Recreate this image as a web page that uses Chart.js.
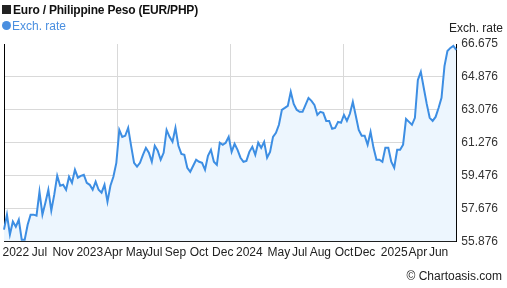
<!DOCTYPE html>
<html>
<head>
<meta charset="utf-8">
<script src="https://cdn.jsdelivr.net/npm/chart.js@4.4.1/dist/chart.umd.min.js"></script>
<style>
body { margin: 0; background: #fff; font-family: "Liberation Sans", Arial, sans-serif; }
#wrap { position: relative; width: 507px; height: 288px; }
#chart { position: absolute; left: 0; top: 0; }
.title { position: absolute; left: 2px; top: 3px; font-size: 12px; font-weight: bold; color: #111; letter-spacing: -0.2px; }
.title .sq { display: inline-block; width: 9px; height: 9px; background: #222; margin-right: 2px; }
.legend { position: absolute; left: 2px; top: 19px; font-size: 12px; color: #4a8fe0; }
.legend .dot { display: inline-block; width: 9px; height: 9px; border-radius: 50%; background: #4a8fe0; margin-right: 1px; }
.ytitle { position: absolute; right: 4px; top: 21px; font-size: 12px; color: #222; }
.credit { position: absolute; right: 5px; top: 269px; font-size: 12px; color: #222; }
</style>
</head>
<body>
<div id="wrap">
  <canvas id="chart" width="507" height="288"></canvas>
  <div class="title"><span class="sq"></span>Euro / Philippine Peso (EUR/PHP)</div>
  <div class="legend"><span class="dot"></span>Exch. rate</div>
  <div class="ytitle">Exch. rate</div>
  <div class="credit">© Chartoasis.com</div>
</div>
<script>
// EUR/PHP rate, every 3px
const rates = [
  56.53, 57.35, 56.26, 56.97, 56.69, 57.07, 55.98, 55.98, 56.80, 57.35,
  57.35, 57.29, 58.60, 57.35, 58.00, 58.71, 57.57, 58.44, 59.47, 58.93,
  58.98, 58.71, 59.42, 59.09, 59.80, 59.37, 59.47, 59.53, 59.09, 58.98,
  58.71, 59.15, 58.71, 58.55, 58.98, 58.06, 58.93, 59.42, 60.18, 61.98,
  61.60, 61.66, 62.09, 61.11, 60.18, 59.97, 60.18, 60.62, 61.00, 60.73,
  60.24, 61.11, 60.84, 60.35, 60.73, 61.98, 61.60, 61.33, 62.09, 61.11,
  60.67, 60.62, 59.91, 59.69, 60.02, 60.35, 60.24, 60.18, 59.80, 60.57,
  60.89, 60.24, 60.07, 61.28, 61.17, 61.28, 61.60, 60.78, 61.22, 60.89,
  60.46, 60.24, 60.29, 60.78, 61.06, 60.62, 61.28, 61.00, 61.33, 60.46,
  60.78, 61.60, 61.82, 62.26, 63.08, 63.18, 63.29, 64.06, 63.40, 63.08,
  62.97, 62.97, 63.35, 63.73, 63.57, 63.35, 62.80, 62.97, 62.91, 62.47,
  62.47, 62.04, 62.09, 62.42, 62.37, 62.80, 62.47, 62.86, 63.51, 62.75,
  61.98, 61.66, 61.66, 61.17, 61.87, 61.00, 60.35, 60.35, 60.24, 61.00,
  61.00, 60.24, 59.91, 60.89, 60.89, 61.17, 62.58, 62.42, 62.26, 62.64,
  64.71, 65.15, 64.27, 63.40, 62.64, 62.47, 62.69, 63.18, 63.73, 65.47,
  66.29, 66.46, 66.57, 66.35
];

const xTickLabels = ['2022', 'Jul', 'Nov', '2023', 'Apr', 'May', 'Jul', 'Sep', 'Oct', 'Dec',
  '2024', 'May', 'Jul', 'Aug', 'Oct', 'Dec', '2025', 'Apr', 'Jun'];
const xTickIndex = [4, 12, 20, 29, 37, 45, 51, 58, 66, 74, 83, 93, 100, 107, 115, 122, 132, 140, 147];
const yTicks = [55.876, 57.676, 59.476, 61.276, 63.076, 64.876, 66.675];

const labels = rates.map(() => '');
xTickIndex.forEach(function (idx, k) { labels[idx] = xTickLabels[k]; });

const font = { size: 12, family: '"Liberation Sans", Arial, sans-serif' };
const yMin = yTicks[0];
const yMax = yTicks[yTicks.length - 1];

new Chart(document.getElementById('chart'), {
  type: 'line',
  data: {
    labels: labels,
    datasets: [{
      label: 'Exch. rate',
      data: rates,
      xAxisID: 'x',
      yAxisID: 'y',
      borderColor: '#3d8ee3',
      borderWidth: 2,
      backgroundColor: '#edf6fe',
      fill: 'start',
      pointRadius: 0,
      tension: 0
    }]
  },
  options: {
    responsive: false,
    animation: false,
    layout: { padding: { top: 44, bottom: 24, right: 4, left: 0 } },
    plugins: { legend: { display: false }, tooltip: { enabled: false } },
    scales: {
      x: {
        ticks: { autoSkip: false, maxRotation: 0, color: '#222', font: font, padding: 4 },
        grid: { display: false, drawTicks: false },
        border: { color: '#000' }
      },
      quarters: {
        type: 'linear',
        position: 'top',
        min: 0,
        max: 1,
        afterBuildTicks: function (axis) {
          axis.ticks = [0.25, 0.5, 0.75].map(function (v) { return { value: v }; });
        },
        ticks: { display: false },
        grid: { color: '#d9d9d9', drawTicks: false },
        border: { display: false }
      },
      y: {
        position: 'right',
        min: yMin,
        max: yMax,
        afterBuildTicks: function (axis) {
          axis.ticks = yTicks.map(function (v) { return { value: v }; });
        },
        ticks: {
          color: '#333',
          font: font,
          padding: 5,
          callback: function (v) { return v.toFixed(3); }
        },
        grid: {
          drawTicks: false,
          color: function (c) {
            return (c.tick.value === yMin || c.tick.value === yMax) ? 'rgba(0,0,0,0)' : '#d9d9d9';
          }
        },
        border: { color: '#000' }
      },
      left: {
        position: 'left',
        ticks: { display: false },
        grid: { display: false, drawTicks: false },
        border: { color: '#000' }
      }
    }
  }
});
</script>
</body>
</html>
